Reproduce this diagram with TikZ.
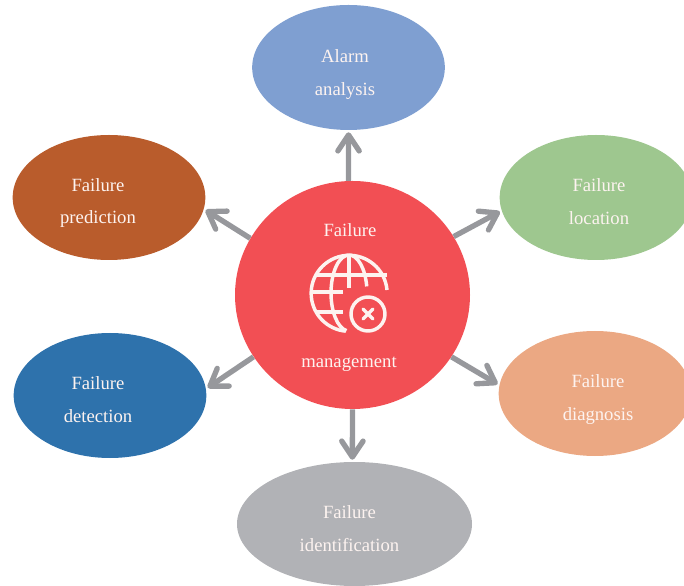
\documentclass[tikz,border=0pt]{standalone}
\usepackage{fontspec}
\setmainfont{Liberation Serif}
\usetikzlibrary{shapes.geometric,arrows.meta}
\definecolor{alarmblue}{HTML}{7F9FD1}
\definecolor{predictbrown}{HTML}{B95C2C}
\definecolor{locategreen}{HTML}{9EC78F}
\definecolor{detectblue}{HTML}{2E72AC}
\definecolor{diagnoseorange}{HTML}{EBA883}
\definecolor{identifygray}{HTML}{B1B2B6}
\definecolor{hubred}{HTML}{F24F54}
\definecolor{arrowgray}{HTML}{97989C}
\definecolor{labelwhite}{HTML}{FDF3F0}
\tikzset{
  blob/.style={ellipse, inner sep=0pt, minimum width=144.5pt, minimum height=93.75pt},
  blobtext/.style={text=labelwhite, font=\fontsize{14}{18.5}\selectfont, align=center, inner sep=0pt},
  flow/.style={draw=arrowgray, line width=4pt, -{Straight Barb[length=12pt,width=16pt,round,line width=4pt]}},
  iconline/.style={draw=labelwhite, line width=2.6pt}
}
\begin{document}
\begin{tikzpicture}[x=0.75pt,y=0.75pt]
    \useasboundingbox (0,0) rectangle (684,585);
    \clip (0,0) rectangle (684,585);

    % outer ellipses
    \foreach \name/\x/\y/\col in {alarm/348.5/517.5/alarmblue, prediction/109/387.5/predictbrown,
        location/596/387.5/locategreen, detection/110/189.5/detectblue,
        diagnosis/595/191.5/diagnoseorange}
     \node[blob,fill=\col] (\name) at (\x,\y) {};
    \node[blob,fill=identifygray,minimum width=176.25pt,minimum height=93pt] (identification) at (354.5,61) {};
    \node[ellipse,inner sep=0pt,fill=hubred,minimum width=176.25pt,minimum height=171pt] (hub) at (352.5,290) {};

    % arrows out of the hub
    \foreach \from/\to in {92.5/alarm.south, 151.8/prediction.-7.5, 30/location.188,
        212.5/detection.4.5, -32.5/diagnosis.175, 270/identification.92}
     \draw[flow,shorten >=1.5pt] (hub.\from) -- (\to);

    % labels
    \node[blobtext] (alarmtext) at (345,510.5) {Alarm\\[6.2pt]analysis};
    \node[blobtext] (predictiontext) at (98,382) {Failure\\[6.2pt]prediction};
    \node[blobtext] (locationtext) at (599,383) {Failure\\[6.2pt]location};
    \node[blobtext] (detectiontext) at (98,185) {Failure\\[6.2pt]detection};
    \node[blobtext] (diagnosistext) at (598,185) {Failure\\[6.2pt]diagnosis};
    \node[blobtext] (identificationtext) at (349.5,56) {Failure\\[6.2pt]identification};
    \node[blobtext] (hubtop) at (350,355) {Failure};
    \node[blobtext] (hubbottom) at (349,221) {management};

    % globe icon
    \draw[iconline] (387,295) arc [start angle=5, end angle=265, radius=38];
    \draw[iconline] (349,330) arc [start angle=90, end angle=262, x radius=18, y radius=38];
    \draw[iconline] (349,330) arc [start angle=90, end angle=10, x radius=18, y radius=38];
    \draw[iconline] (349,330) -- (349,297);
    \draw[iconline] (315,310) -- (387,310);
    \draw[iconline] (311,293) -- (343,293);
    \draw[iconline] (316,273) -- (343,273);
    \draw[iconline] (368,271) circle [radius=17];
    \draw[iconline,line cap=round] (363,266) -- (373,276);
    \draw[iconline,line cap=round] (363,276) -- (373,266);
\end{tikzpicture}
\end{document}
